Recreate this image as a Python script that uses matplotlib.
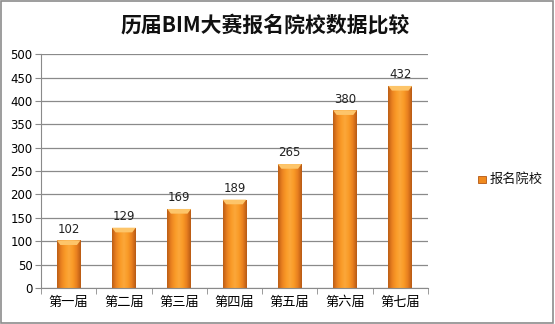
import numpy as np
import matplotlib
matplotlib.use('Agg')
import matplotlib.pyplot as plt
from matplotlib.colors import LinearSegmentedColormap
from matplotlib.patches import Rectangle, Polygon

plt.rcParams['font.family'] = ['Noto Sans CJK SC', 'DejaVu Sans']

# 历届报名院校数量
jies = ['第一届', '第二届', '第三届', '第四届', '第五届', '第六届', '第七届']
yuanxiao = [102, 129, 169, 189, 265, 380, 432]

fig = plt.figure(figsize=(5.55, 3.24), dpi=100)
fig.patch.set_facecolor('white')
# 外框
fig.add_artist(Rectangle((0.002, 0.003), 0.995, 0.994, transform=fig.transFigure,
                         fill=False, edgecolor='#8c8c8c', linewidth=1.2))

ax = fig.add_axes([0.0739, 0.111, 0.697, 0.722])
ax.set_xlim(-0.5, len(jies) - 0.5)
ax.set_ylim(0, 500)
ax.set_yticks(range(0, 501, 50))
ax.yaxis.grid(True, color='#8a8a8a', linewidth=0.9)
ax.set_axisbelow(True)
for s in ['top', 'right']:
    ax.spines[s].set_visible(False)
ax.spines['left'].set_color('#8a8a8a')
ax.spines['bottom'].set_color('#8a8a8a')
ax.tick_params(axis='y', length=4, color='#8a8a8a', labelsize=8.5, pad=2)
for lab in ax.get_yticklabels():
    lab.set_family('DejaVu Sans')
ax.tick_params(axis='x', length=0, labelsize=9.5, pad=6)
ax.set_xticks(range(len(jies)))
ax.set_xticklabels(jies)
# 分类之间的刻度线
ax.set_xticks(np.arange(-0.5, len(jies), 1), minor=True)
ax.tick_params(axis='x', which='minor', length=4, color='#8a8a8a')

# 横向渐变的柱子
cmap = LinearSegmentedColormap.from_list(
    'orange', ['#bd5e16', '#ea8220', '#f99a27', '#fca83a', '#f99a27', '#e87f1f', '#b85a15'])
grad = np.linspace(0, 1, 64).reshape(1, -1)
w = 0.43
bars = ax.bar(range(len(jies)), yuanxiao, width=w, color='none', edgecolor='none')
for b, v in zip(bars, yuanxiao):
    x0 = b.get_x()
    im = ax.imshow(grad, cmap=cmap, aspect='auto', extent=[x0, x0 + w, 0, v], zorder=2)
    im.set_clip_path(b)
    ax.add_patch(Polygon([[x0, v], [x0 + w, v], [x0 + w * 0.85, v - 10], [x0 + w * 0.15, v - 10]],
                         closed=True, facecolor='#fdc56a', edgecolor='none', zorder=3))
    ax.text(x0 + w / 2, v + 10, str(v), ha='center', va='bottom', fontsize=8.5,
            family='DejaVu Sans', color='#222222')

ax.set_xlim(-0.5, len(jies) - 0.5)
ax.set_ylim(0, 500)

fig.text(0.477, 0.923, '历届BIM大赛报名院校数据比较', ha='center', va='center',
         fontsize=15, fontweight='bold', color='#111111')

# 图例
fig.add_artist(Rectangle((0.862, 0.435), 0.013, 0.022, transform=fig.transFigure,
                         facecolor='#f08a1e', edgecolor='#b45714', linewidth=0.6))
fig.text(0.882, 0.446, '报名院校', ha='left', va='center', fontsize=9.5, color='#111111')

fig.savefig('out.png', dpi=100)
